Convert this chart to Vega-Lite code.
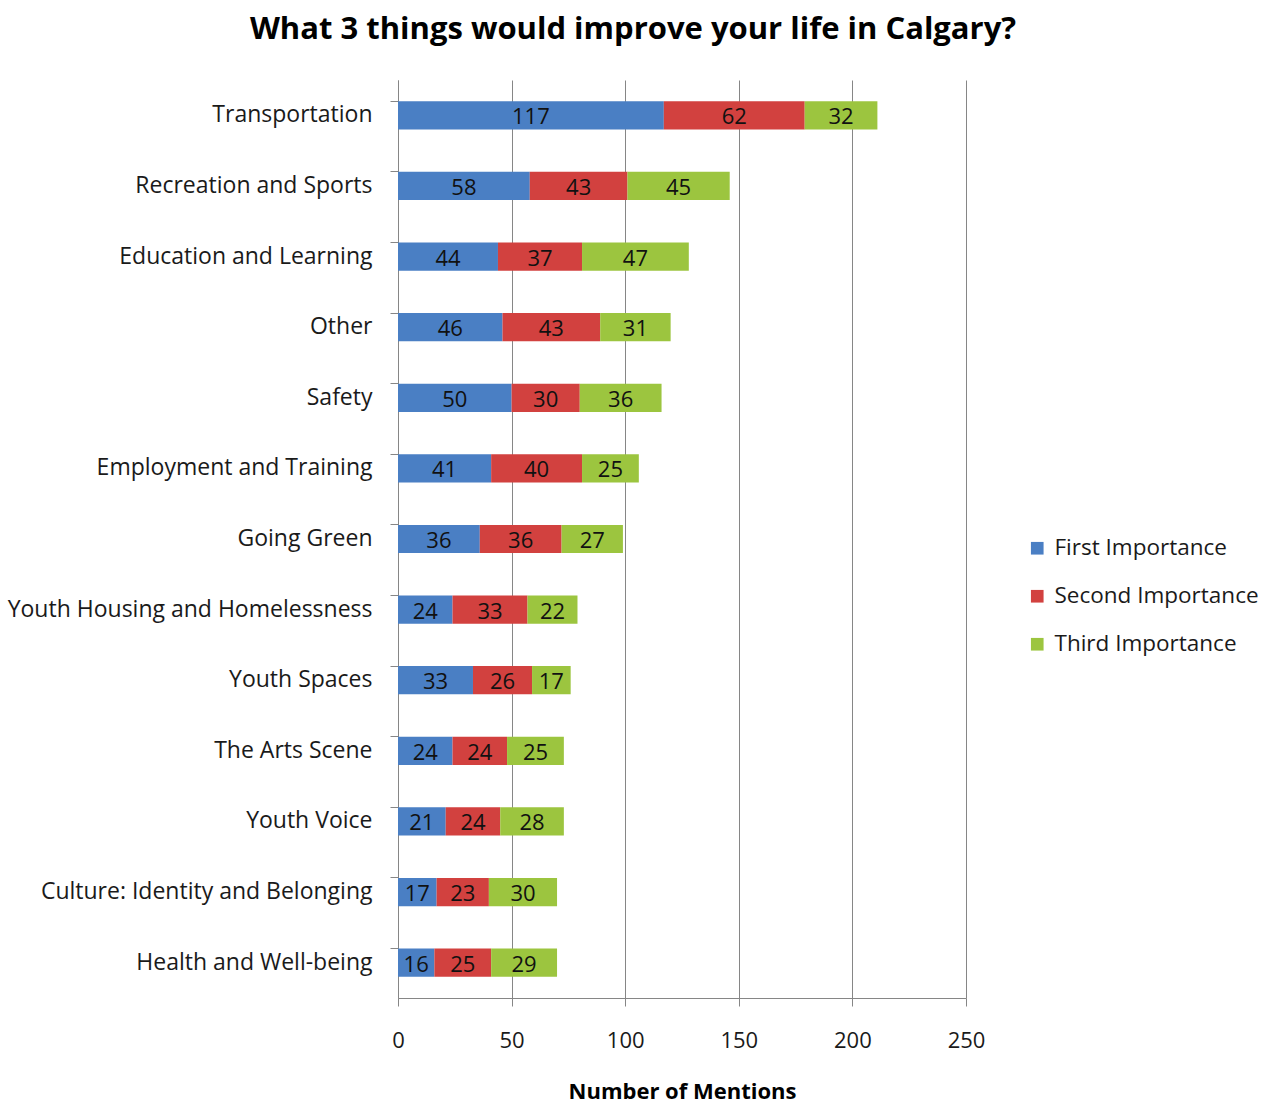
{
  "$schema": "https://vega.github.io/schema/vega-lite/v6.json",
  "autosize": "none",
  "width": 568,
  "height": 918,
  "padding": {"left": 398, "top": 80, "right": 313, "bottom": 107},
  "background": "white",
  "title": {
    "text": "What 3 things would improve your life in Calgary?",
    "font": "Open Sans",
    "fontSize": 31,
    "fontWeight": "bold",
    "color": "#000000",
    "anchor": "middle",
    "dx": -49,
    "offset": 34
  },
  "config": {
    "font": "Open Sans",
    "view": {"stroke": null}
  },
  "data": {
    "values": [
      {"topic": "Transportation", "importance": "First Importance", "rank": 1, "count": 117},
      {"topic": "Transportation", "importance": "Second Importance", "rank": 2, "count": 62},
      {"topic": "Transportation", "importance": "Third Importance", "rank": 3, "count": 32},
      {"topic": "Recreation and Sports", "importance": "First Importance", "rank": 1, "count": 58},
      {"topic": "Recreation and Sports", "importance": "Second Importance", "rank": 2, "count": 43},
      {"topic": "Recreation and Sports", "importance": "Third Importance", "rank": 3, "count": 45},
      {"topic": "Education and Learning", "importance": "First Importance", "rank": 1, "count": 44},
      {"topic": "Education and Learning", "importance": "Second Importance", "rank": 2, "count": 37},
      {"topic": "Education and Learning", "importance": "Third Importance", "rank": 3, "count": 47},
      {"topic": "Other", "importance": "First Importance", "rank": 1, "count": 46},
      {"topic": "Other", "importance": "Second Importance", "rank": 2, "count": 43},
      {"topic": "Other", "importance": "Third Importance", "rank": 3, "count": 31},
      {"topic": "Safety", "importance": "First Importance", "rank": 1, "count": 50},
      {"topic": "Safety", "importance": "Second Importance", "rank": 2, "count": 30},
      {"topic": "Safety", "importance": "Third Importance", "rank": 3, "count": 36},
      {"topic": "Employment and Training", "importance": "First Importance", "rank": 1, "count": 41},
      {"topic": "Employment and Training", "importance": "Second Importance", "rank": 2, "count": 40},
      {"topic": "Employment and Training", "importance": "Third Importance", "rank": 3, "count": 25},
      {"topic": "Going Green", "importance": "First Importance", "rank": 1, "count": 36},
      {"topic": "Going Green", "importance": "Second Importance", "rank": 2, "count": 36},
      {"topic": "Going Green", "importance": "Third Importance", "rank": 3, "count": 27},
      {"topic": "Youth Housing and Homelessness", "importance": "First Importance", "rank": 1, "count": 24},
      {"topic": "Youth Housing and Homelessness", "importance": "Second Importance", "rank": 2, "count": 33},
      {"topic": "Youth Housing and Homelessness", "importance": "Third Importance", "rank": 3, "count": 22},
      {"topic": "Youth Spaces", "importance": "First Importance", "rank": 1, "count": 33},
      {"topic": "Youth Spaces", "importance": "Second Importance", "rank": 2, "count": 26},
      {"topic": "Youth Spaces", "importance": "Third Importance", "rank": 3, "count": 17},
      {"topic": "The Arts Scene", "importance": "First Importance", "rank": 1, "count": 24},
      {"topic": "The Arts Scene", "importance": "Second Importance", "rank": 2, "count": 24},
      {"topic": "The Arts Scene", "importance": "Third Importance", "rank": 3, "count": 25},
      {"topic": "Youth Voice", "importance": "First Importance", "rank": 1, "count": 21},
      {"topic": "Youth Voice", "importance": "Second Importance", "rank": 2, "count": 24},
      {"topic": "Youth Voice", "importance": "Third Importance", "rank": 3, "count": 28},
      {"topic": "Culture: Identity and Belonging", "importance": "First Importance", "rank": 1, "count": 17},
      {"topic": "Culture: Identity and Belonging", "importance": "Second Importance", "rank": 2, "count": 23},
      {"topic": "Culture: Identity and Belonging", "importance": "Third Importance", "rank": 3, "count": 30},
      {"topic": "Health and Well-being", "importance": "First Importance", "rank": 1, "count": 16},
      {"topic": "Health and Well-being", "importance": "Second Importance", "rank": 2, "count": 25},
      {"topic": "Health and Well-being", "importance": "Third Importance", "rank": 3, "count": 29}
    ]
  },
  "transform": [
    {"stack": "count", "groupby": ["topic"], "sort": [{"field": "rank"}], "as": ["x0", "x1"]},
    {"calculate": "(datum.x0 + datum.x1) / 2", "as": "xmid"}
  ],
  "encoding": {
    "y": {
      "field": "topic",
      "type": "nominal",
      "sort": ["Transportation", "Recreation and Sports", "Education and Learning", "Other", "Safety", "Employment and Training", "Going Green", "Youth Housing and Homelessness", "Youth Spaces", "The Arts Scene", "Youth Voice", "Culture: Identity and Belonging", "Health and Well-being"],
      "scale": {"paddingInner": 0.6, "paddingOuter": 0.3},
      "axis": {
        "title": null,
        "bandPosition": 0,
        "domainColor": "#868686",
        "tickColor": "#868686",
        "tickSize": 8,
        "labelFontSize": 23,
        "labelColor": "#1a1a1a",
        "labelPadding": 18,
        "labelLimit": 0
      }
    }
  },
  "layer": [
    {
      "mark": {"type": "bar"},
      "encoding": {
        "x": {
          "field": "x0",
          "type": "quantitative",
          "scale": {"domain": [0, 250], "nice": false},
          "axis": {
            "title": "Number of Mentions",
            "titleFontSize": 22,
            "titleFontWeight": "bold",
            "titleColor": "#000000",
            "titlePadding": 30,
            "values": [0, 50, 100, 150, 200, 250],
            "grid": true,
            "gridColor": "#868686",
            "domainColor": "#868686",
            "tickColor": "#868686",
            "tickSize": 8,
            "labelFontSize": 22,
            "labelColor": "#1a1a1a",
            "labelPadding": 24,
            "labelFlush": false
          }
        },
        "x2": {"field": "x1"},
        "color": {
          "field": "importance",
          "type": "nominal",
          "scale": {
            "domain": ["First Importance", "Second Importance", "Third Importance"],
            "range": ["#4a7fc4", "#d2413f", "#9cc53f"]
          },
          "legend": {
            "title": null,
            "orient": "none",
            "legendX": 628,
            "legendY": 457,
            "symbolType": "square",
            "symbolSize": 160,
            "symbolStrokeWidth": 0,
            "labelFontSize": 22.5,
            "labelColor": "#1a1a1a",
            "labelLimit": 0,
            "rowPadding": 25,
            "labelOffset": 6
          }
        }
      }
    },
    {
      "mark": {"type": "text", "fontSize": 22, "color": "#111111", "baseline": "middle", "dy": 2},
      "encoding": {
        "x": {"field": "xmid", "type": "quantitative", "scale": {"domain": [0, 250], "nice": false}},
        "text": {"field": "count", "type": "quantitative"}
      }
    }
  ]
}
